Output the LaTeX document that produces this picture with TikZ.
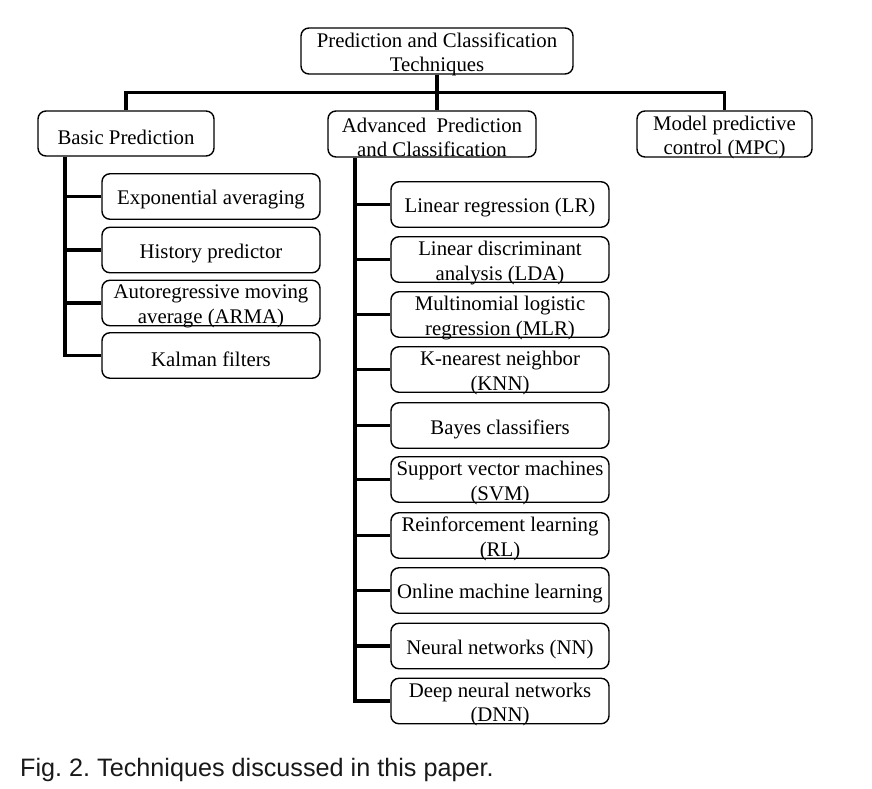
\documentclass[tikz,border=0pt]{standalone}
\usepackage{fontspec}
\setmainfont{Liberation Serif}
\newfontfamily\capfont{Liberation Sans}
\frenchspacing
\begin{document}
\begin{tikzpicture}[x=1pt,y=-1pt,
  box/.style={draw=black, line width=1.4pt, rounded corners=8pt, inner sep=0pt},
  txt/.style={align=center, inner sep=0pt, yshift=-3.5pt,
    font=\fontsize{20.8}{24.5}\selectfont},
  conn/.style={draw=black, line width=3.2pt},
  every node/.style={anchor=center}]
\useasboundingbox (0,0) rectangle (872,788);
% level 0/1
\node[box, minimum width=272, minimum height=46, label={[txt]center:{Prediction and Classification\\Techniques}}] (top) at (437,51) {};
\node[box, minimum width=176, minimum height=45, label={[txt]center:{Basic Prediction}}] (basic) at (126,133.5) {};
\node[box, minimum width=208, minimum height=46, label={[txt]center:{Advanced\ \ Prediction\\and Classification}}] (adv) at (432,134) {};
\node[box, minimum width=175, minimum height=46, label={[txt]center:{Model predictive\\control (MPC)}}] (mpc) at (724.5,134) {};
% basic children
\foreach \n/\y/\t in {exp/196.5/{Exponential averaging},
                      hist/250/{History predictor},
                      arma/303/{Autoregressive moving\\average (ARMA)},
                      kal/355.5/{Kalman filters}}
  \node[box, minimum width=218, minimum height=45.5, label={[txt]center:{\t}}] (\n) at (211,\y) {};
% advanced children
\foreach \n/\y/\t in {lr/204.5/{Linear regression (LR)},
                      lda/259.5/{Linear discriminant\\analysis (LDA)},
                      mlr/314.5/{Multinomial logistic\\regression (MLR)},
                      knn/369.5/{K-nearest neighbor\\(KNN)},
                      bay/425.5/{Bayes classifiers},
                      svm/479.5/{Support vector machines\\(SVM)},
                      rl/535.5/{Reinforcement learning\\(RL)},
                      onl/590.5/{Online machine learning},
                      nn/646/{Neural networks (NN)},
                      dnn/701/{Deep neural networks\\(DNN)}}
  \node[box, minimum width=218, minimum height=45.5, label={[txt]center:{\t}}] (\n) at (500,\y) {};
% coordinates for spines
\coordinate (bs) at (65,0);
\coordinate (as) at (355,0);
% connectors
\draw[conn] (basic.north) -- ++(0,-17.5) -| (mpc.north);
\draw[conn] (top.south) -- (top.south |- adv.north);
\draw[conn] (bs |- basic.south) -- (bs |- kal.west) -- (kal.west);
\foreach \n in {exp,hist,arma} \draw[conn] (bs |- \n.west) -- (\n.west);
\draw[conn] (as |- adv.south) -- (as |- dnn.west) -- (dnn.west);
\foreach \n in {lr,lda,mlr,knn,bay,svm,rl,onl,nn} \draw[conn] (as |- \n.west) -- (\n.west);
% caption
\node[anchor=base west, inner sep=0pt, font=\capfont\fontsize{25.2}{28}\selectfont, text=black!90] (cap) at (20,776) {Fig. 2. Techniques discussed in this paper.};
\end{tikzpicture}
\end{document}
